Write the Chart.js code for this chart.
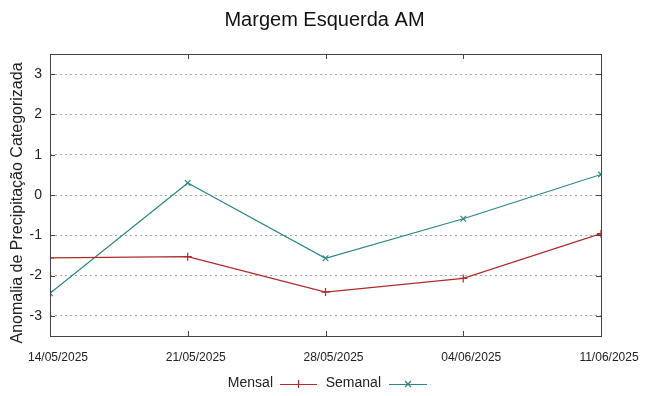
<!DOCTYPE html>
<html>
<head>
<meta charset="utf-8">
<script src="https://cdn.jsdelivr.net/npm/chart.js@4"></script>
<style>
  html, body { margin: 0; padding: 0; background: #fff; }
  #wrap { width: 649px; height: 396px; }
</style>
</head>
<body>
<div id="wrap"><canvas id="chart"></canvas></div>
<script>
// Data
const dates = ['14/05/2025', '21/05/2025', '28/05/2025', '04/06/2025', '11/06/2025'];
const mensal = [-1.56, -1.53, -2.41, -2.07, -0.96];
const semanal = [-2.44, 0.30, -1.57, -0.59, 0.51];
const yTicks = [-3, -2, -1, 0, 1, 2, 3];

const redColor = '#b02a2a';
const tealColor = '#2b8686';
const font = 'Liberation Sans, Arial, sans-serif';

// gnuplot-like frame with inner tick marks, y title and legend at the bottom
const framePlugin = {
  id: 'frame',
  afterDraw(chart) {
    const { ctx, chartArea: a, scales } = chart;
    ctx.save();
    ctx.strokeStyle = '#444';
    ctx.lineWidth = 1;
    ctx.strokeRect(a.left + 0.5, a.top + 0.5, a.right - a.left, a.bottom - a.top);
    ctx.beginPath();
    yTicks.forEach(v => {
      const y = Math.round(scales.y.getPixelForValue(v)) + 0.5;
      ctx.moveTo(a.left, y); ctx.lineTo(a.left + 5, y);
      ctx.moveTo(a.right, y); ctx.lineTo(a.right - 5, y);
    });
    dates.forEach((d, i) => {
      const x = Math.round(scales.x.getPixelForValue(i)) + 0.5;
      ctx.moveTo(x, a.bottom); ctx.lineTo(x, a.bottom - 5);
      ctx.moveTo(x, a.top); ctx.lineTo(x, a.top + 5);
    });
    ctx.stroke();

    // y axis title
    ctx.save();
    ctx.translate(18, (a.top + a.bottom) / 2 + 8);
    ctx.rotate(-Math.PI / 2);
    ctx.font = '16px ' + font;
    ctx.fillStyle = '#222';
    ctx.textAlign = 'center';
    ctx.textBaseline = 'middle';
    ctx.fillText('Anomalia de Precipitação Categorizada', 0, 0);
    ctx.restore();

    // legend
    const ly = 384;
    ctx.font = '14px ' + font;
    ctx.fillStyle = '#222';
    ctx.textBaseline = 'middle';
    ctx.textAlign = 'right';
    const items = [
      { label: 'Mensal', color: redColor, textEnd: 273, x0: 280, x1: 317, mark: 'plus' },
      { label: 'Semanal', color: tealColor, textEnd: 381, x0: 389, x1: 427, mark: 'x' }
    ];
    items.forEach(it => {
      ctx.fillText(it.label, it.textEnd, ly - 1);
      ctx.strokeStyle = it.color;
      ctx.lineWidth = 1.2;
      ctx.beginPath();
      ctx.moveTo(it.x0, ly + 0.5); ctx.lineTo(it.x1, ly + 0.5);
      const cx = (it.x0 + it.x1) / 2;
      if (it.mark === 'plus') {
        ctx.moveTo(cx, ly - 4); ctx.lineTo(cx, ly + 4);
      } else {
        ctx.moveTo(cx - 3, ly - 3); ctx.lineTo(cx + 3, ly + 3);
        ctx.moveTo(cx - 3, ly + 3); ctx.lineTo(cx + 3, ly - 3);
      }
      ctx.stroke();
    });
    ctx.restore();
  }
};

new Chart(document.getElementById('chart'), {
  type: 'line',
  data: {
    datasets: [
      {
        label: 'Mensal',
        data: mensal.map((v, i) => ({ x: i, y: v })),
        borderColor: redColor,
        backgroundColor: redColor,
        borderWidth: 1.2,
        pointStyle: 'cross',
        pointRadius: 4,
        pointBorderWidth: 1.2,
        tension: 0
      },
      {
        label: 'Semanal',
        data: semanal.map((v, i) => ({ x: i, y: v })),
        borderColor: tealColor,
        backgroundColor: tealColor,
        borderWidth: 1.2,
        pointStyle: 'crossRot',
        pointRadius: 4,
        pointBorderWidth: 1.2,
        tension: 0
      }
    ]
  },
  options: {
    responsive: true,
    maintainAspectRatio: false,
    animation: false,
    layout: { padding: 0 },
    plugins: {
      legend: { display: false },
      tooltip: { enabled: false },
      title: {
        display: true,
        text: 'Margem Esquerda AM',
        color: '#111',
        font: { family: font, size: 20, weight: 'normal' },
        padding: { top: 8, bottom: 22 }
      }
    },
    scales: {
      x: {
        type: 'linear',
        min: 0,
        max: 4,
        afterBuildTicks: s => { s.ticks = dates.map((d, i) => ({ value: i })); },
        afterFit: s => { s.height = 60; },
        ticks: {
          color: '#222',
          font: { family: font, size: 12 },
          padding: 14,
          labelOffset: 8,
          maxRotation: 0,
          autoSkip: false,
          callback: v => dates[v]
        },
        grid: { display: false, drawTicks: false },
        border: { display: false }
      },
      y: {
        min: -3.5,
        max: 3.5,
        afterBuildTicks: s => { s.ticks = yTicks.map(v => ({ value: v })); },
        afterFit: s => { s.width = 50; },
        ticks: {
          color: '#222',
          font: { family: font, size: 14 },
          padding: 8
        },
        grid: {
          color: '#aaaaaa',
          lineWidth: 1,
          drawTicks: false
        },
        border: { display: false, dash: [2, 3] }
      },
      yRight: {
        position: 'right',
        min: -3.5,
        max: 3.5,
        afterFit: s => { s.width = 48; },
        ticks: { display: false },
        grid: { display: false, drawTicks: false },
        border: { display: false }
      }
    }
  },
  plugins: [framePlugin]
});
</script>
</body>
</html>
